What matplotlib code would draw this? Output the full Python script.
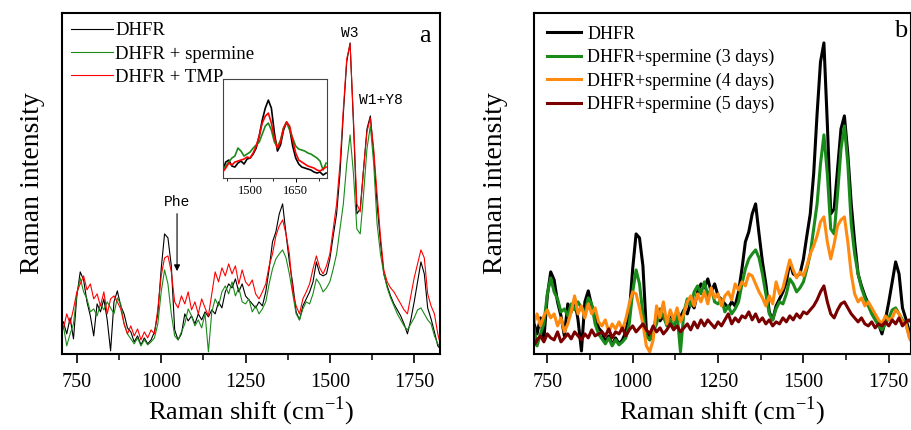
import numpy as np
import matplotlib
matplotlib.use("Agg")
import matplotlib.pyplot as plt
from matplotlib.ticker import MultipleLocator

plt.rcParams['font.family'] = ['Liberation Serif', 'DejaVu Serif']

# Raman shift grid (cm-1), one reading every 10 cm-1
raman_shift = np.arange(710, 1840, 10)

# intensities (arbitrary units)
dhfr = [32, 20, 36, 15, 58, 82, 74, 52, 38, 18,
        50, 42, 55, 34, 3, 52, 63, 48, 40, 26,
        22, 12, 18, 9, 16, 10, 14, 22, 40, 85,
        120, 116, 88, 24, 14, 20, 40, 33, 38, 30,
        40, 34, 42, 37, 44, 40, 52, 46, 62, 70,
        66, 75, 62, 70, 58, 54, 50, 46, 52, 48,
        62, 85, 112, 122, 140, 150, 120, 92, 70, 42,
        34, 48, 55, 62, 72, 92, 80, 78, 80, 95,
        118, 140, 180, 240, 292, 311, 230, 140, 145, 185,
        225, 238, 200, 150, 112, 80, 68, 58, 50, 44,
        38, 30, 20, 34, 52, 72, 92, 80, 46, 35,
        22, 8, 4]

dhfr_spermine = [28, 8, 20, 30, 60, 76, 62, 55, 42, 45,
                 38, 50, 44, 52, 46, 40, 56, 50, 30, 20,
                 15, 10, 16, 8, 14, 9, 12, 16, 30, 62,
                 84, 70, 40, 18, 14, 22, 30, 45, 38, 28,
                 34, 26, 40, 2, 42, 55, 48, 62, 68, 60,
                 72, 58, 66, 52, 50, 55, 42, 48, 40, 45,
                 52, 70, 85, 95, 100, 104, 96, 80, 60, 40,
                 34, 45, 52, 50, 60, 75, 70, 62, 66, 72,
                 85, 100, 125, 150, 190, 219, 180, 125, 120, 160,
                 205, 228, 190, 130, 100, 80, 66, 56, 48, 40,
                 34, 28, 24, 30, 36, 44, 46, 40, 34, 30,
                 18, 10, 5]

dhfr_tmp = [25, 40, 30, 45, 62, 70, 78, 64, 70, 55,
            60, 48, 62, 40, 55, 58, 52, 45, 30, 20,
            28, 18, 25, 14, 22, 16, 24, 20, 45, 78,
            96, 98, 82, 52, 46, 58, 50, 62, 44, 52,
            40, 55, 46, 38, 60, 82, 72, 86, 78, 90,
            80, 88, 70, 84, 72, 68, 74, 60, 55, 62,
            70, 88, 100, 118, 128, 134, 120, 100, 62, 48,
            40, 55, 62, 70, 85, 98, 86, 80, 88, 100,
            125, 150, 190, 245, 295, 310, 235, 150, 142, 185,
            222, 236, 205, 160, 118, 84, 72, 66, 62, 56,
            50, 44, 40, 58, 76, 90, 104, 96, 60, 48,
            40, 20, 6]

dhfr_spermine_4d = [30, 40, 28, 38, 44, 36, 40, 28, 36, 22,
                    30, 42, 58, 40, 48, 36, 50, 40, 46, 32,
                    28, 34, 22, 30, 25, 32, 24, 35, 50, 62,
                    60, 46, 30, 8, 2, 14, 48, 36, 52, 30,
                    44, 34, 46, 32, 40, 52, 58, 48, 60, 52,
                    62, 50, 66, 56, 60, 48, 58, 62, 54, 70,
                    64, 72, 68, 80, 78, 70, 62, 56, 48, 58,
                    50, 72, 60, 66, 80, 94, 84, 76, 82, 78,
                    88, 100, 108, 118, 132, 137, 112, 95, 110, 128,
                    134, 137, 112, 80, 60, 52, 56, 48, 52, 46,
                    40, 34, 30, 38, 34, 36, 44, 40, 32, 30,
                    16, 10, 8]

dhfr_spermine_5d = [8, 14, 18, 12, 20, 16, 14, 22, 12, 16,
                    20, 15, 22, 18, 14, 20, 16, 24, 18, 20,
                    22, 18, 25, 16, 22, 20, 26, 18, 24, 28,
                    22, 26, 30, 24, 20, 28, 22, 26, 20, 24,
                    30, 24, 28, 22, 26, 30, 24, 32, 26, 34,
                    28, 34, 30, 26, 32, 28, 34, 40, 30, 36,
                    32, 38, 36, 42, 34, 40, 32, 36, 30, 34,
                    28, 32, 30, 36, 32, 38, 34, 40, 36, 42,
                    40, 44, 48, 54, 62, 68, 52, 40, 36, 44,
                    50, 52, 46, 40, 36, 32, 36, 30, 28, 32,
                    26, 30, 28, 32, 28, 34, 30, 36, 28, 32,
                    34, 30, 28]

# inset (1410-1750 cm-1)
inset_shift = np.arange(1410, 1760, 10)
inset_dhfr = [8, 16, 18, 12, 11, 15, 17, 14, 19, 20,
              24, 30, 42, 58, 70, 78, 70, 45, 27, 33,
              48, 56, 50, 32, 20, 14, 11, 10, 9, 8,
              6, 5, 6, 3, 5]
inset_tmp = [6, 10, 15, 13, 16, 17, 18, 19, 21, 20,
             25, 32, 42, 55, 62, 65, 55, 40, 30, 36,
             50, 56, 52, 38, 25, 18, 16, 14, 12, 11,
             10, 8, 7, 9, 11]
inset_spermine = [8, 12, 16, 20, 22, 30, 27, 22, 24, 26,
                  30, 33, 36, 44, 52, 55, 48, 36, 31, 38,
                  50, 56, 48, 40, 32, 29, 28, 27, 25, 24,
                  22, 20, 17, 8, 15]

labels_a = ['DHFR', 'DHFR + spermine', 'DHFR + TMP']
labels_b = ['DHFR', 'DHFR+spermine (3 days)', 'DHFR+spermine (4 days)',
            'DHFR+spermine (5 days)']

vert = '#1a8a1a'
orange = '#ff8a10'
bordeaux = '#7a0000'


def style_axes(ax, xlim, ypad):
    ax.set_xlim(*xlim)
    ax.set_ylim(0, 341)
    ax.set_yticks([])
    ax.xaxis.set_major_locator(MultipleLocator(250))
    ax.xaxis.set_minor_locator(MultipleLocator(125))
    ax.tick_params(axis='x', which='major', direction='out', length=6.5,
                   width=1.2, labelsize=14.5, pad=7)
    ax.tick_params(axis='x', which='minor', direction='out', length=4, width=1.1)
    for s in ax.spines.values():
        s.set_linewidth(1.5)
    ax.set_xlabel('Raman shift (cm$^{\\mathregular{-1}}$)', fontsize=19, labelpad=2)
    ax.set_ylabel('Raman intensity', fontsize=20, labelpad=ypad)


fig = plt.figure(figsize=(9.12, 4.30), dpi=100)

# ---- panel a
ax1 = fig.add_axes([0.068, 0.177, 0.415, 0.793])
ax1.plot(raman_shift, dhfr, color='black', lw=0.8, label=labels_a[0])
ax1.plot(raman_shift, dhfr_spermine, color=vert, lw=0.8, label=labels_a[1])
ax1.plot(raman_shift, dhfr_tmp, color='red', lw=0.8, label=labels_a[2])
style_axes(ax1, (706, 1828), 12)
ax1.legend(loc='upper left', frameon=False, fontsize=13.5, handlelength=2.2,
           handletextpad=0.15, labelspacing=0.32, borderaxespad=0.1,
           bbox_to_anchor=(0.0, 1.0))
ax1.text(1782, 318, 'a', fontsize=19, ha='center', va='center')
ax1.text(1558, 321, 'W3', fontsize=10.5, ha='center', va='center',
         family='Liberation Mono')
ax1.text(1651, 254, 'W1+Y8', fontsize=10.5, ha='center', va='center',
         family='Liberation Mono')
ax1.text(1047, 152, 'Phe', fontsize=10.5, ha='center', va='center',
         family='Liberation Mono')
ax1.annotate('', xy=(1047, 80), xytext=(1047, 143),
             arrowprops=dict(arrowstyle='-|>', color='black', lw=0.8,
                             mutation_scale=9))

# inset
axin = fig.add_axes([0.2449, 0.586, 0.114, 0.230])
axin.plot(inset_shift, inset_dhfr, color='black', lw=1.2)
axin.plot(inset_shift, inset_spermine, color=vert, lw=1.2)
axin.plot(inset_shift, inset_tmp, color='red', lw=1.2)
axin.set_xlim(1412, 1754)
axin.set_ylim(0, 99)
axin.set_yticks([])
axin.set_xticks([1500, 1650])
axin.xaxis.set_minor_locator(MultipleLocator(75))
axin.tick_params(axis='x', which='major', direction='out', length=3, width=0.7,
                 labelsize=9, pad=2)
axin.tick_params(axis='x', which='minor', direction='out', length=2, width=0.6)
for s in axin.spines.values():
    s.set_linewidth(0.8)
    s.set_color('#444444')

# ---- panel b
ax2 = fig.add_axes([0.5855, 0.177, 0.4134, 0.793])
ax2.plot(raman_shift, dhfr, color='black', lw=2.2, label=labels_b[0])
ax2.plot(raman_shift, dhfr_spermine, color=vert, lw=2.2, label=labels_b[1])
ax2.plot(raman_shift, dhfr_spermine_4d, color=orange, lw=2.2, label=labels_b[2])
ax2.plot(raman_shift, dhfr_spermine_5d, color=bordeaux, lw=2.2, label=labels_b[3])
style_axes(ax2, (711, 1815), 19)
ax2.legend(loc='upper left', frameon=False, fontsize=13, handlelength=1.9,
           handletextpad=0.35, labelspacing=0.35, borderaxespad=0.3,
           bbox_to_anchor=(0.0, 1.0))
ax2.text(1784, 323, 'b', fontsize=19, ha='center', va='center')

fig.savefig('out.png', dpi=100)
